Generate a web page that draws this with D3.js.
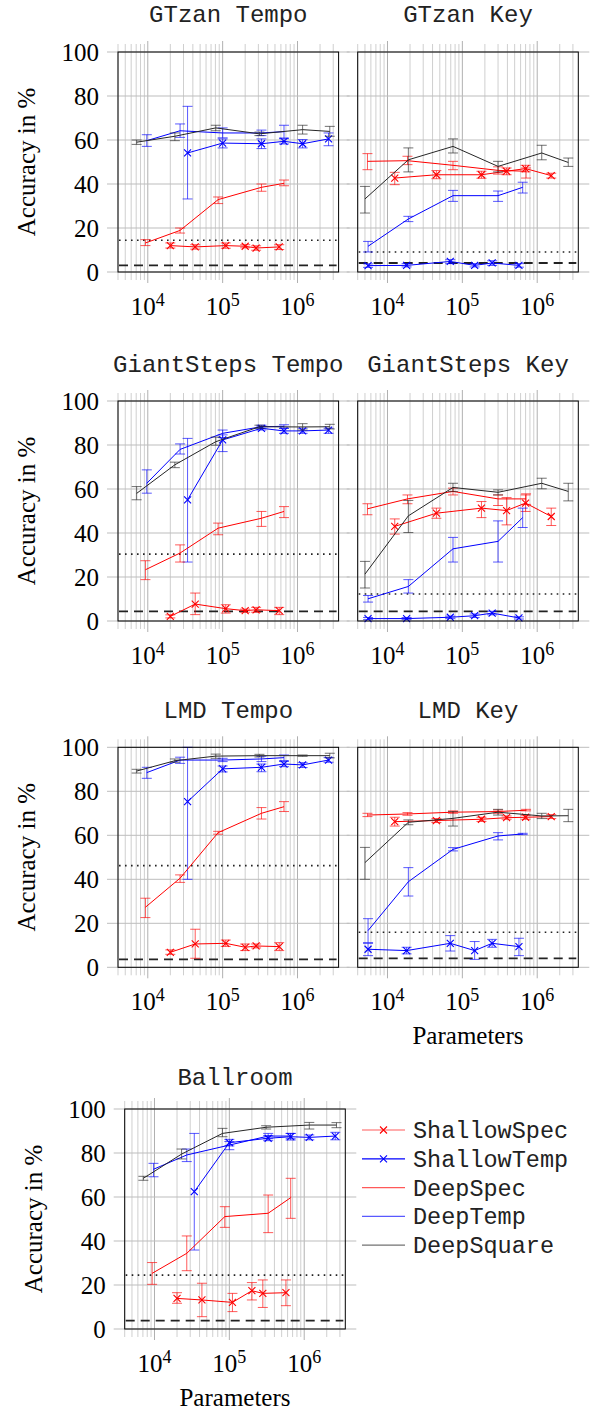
<!DOCTYPE html>
<html>
<head>
<meta charset="utf-8">
<script src="https://cdn.jsdelivr.net/npm/d3@7"></script>
<style>
  body { margin: 0; background: #fff; }
</style>
</head>
<body>
<svg id="chart" width="593" height="1411"></svg>
<script>
// parameter counts of each model family (tempo and key variants)
const tempoShallowSpec = [2.0e4, 4.3e4, 1.1e5, 2.0e5, 2.8e5, 5.7e5];
const tempoShallowTemp = [3.4e4, 1.0e5, 3.3e5, 6.6e5, 1.17e6, 2.6e6];
const tempoDeepSpec = [9.3e3, 2.7e4, 8.7e4, 3.3e5, 6.6e5];
const tempoDeepTemp = [9.7e3, 2.7e4, 1.0e5, 3.3e5, 6.6e5];
const tempoDeepSquare = [7.1e3, 2.3e4, 8.1e4, 3.1e5, 1.17e6, 2.7e6];

const keyShallowSpec = [1.25e4, 4.5e4, 1.8e5, 3.9e5, 7.0e5, 1.54e6];
const keyShallowTemp = [5.5e3, 1.8e4, 6.9e4, 1.46e5, 2.5e5, 5.7e5];
const keyDeepSpec = [5.4e3, 1.85e4, 7.5e4, 3.0e5, 7.1e5];
const keyDeepTemp = [5.5e3, 1.9e4, 7.5e4, 3.0e5, 6.4e5];
const keyDeepSquare = [5.0e3, 1.9e4, 7.5e4, 3.0e5, 1.15e6, 2.6e6];

const seriesNames = ["ShallowSpec", "ShallowTemp", "DeepSpec", "DeepTemp", "DeepSquare"];
const yTicks = [0, 20, 40, 60, 80, 100];
const xDecades = [4, 5, 6];

// accuracy values per panel: [mean, low, high]
const gtzanTempo = {
  ShallowSpec: [[12, 10.9, 13.2], [11.4, 10.4, 12.4], [12, 10.8, 13.2], [11.7, 11, 12.4], [10.9, 9.9, 11.9], [11.4, 10.2, 12.4]],
  ShallowTemp: [[54.1, 33.2, 75.3], [58.6, 56.4, 60.5], [58.3, 56.1, 60.5], [59.4, 58.2, 60.6], [58.3, 56.4, 60.2], [60.5, 57.4, 63.2]],
  DeepSpec: [[13.2, 12, 14.7], [18.9, 17.7, 20], [32.9, 31.1, 34.1], [38.5, 36.7, 40], [40.3, 39.2, 41.8]],
  DeepTemp: [[59.7, 57.1, 62.4], [64.2, 61.2, 67.3], [63.2, 61, 65.5], [63.2, 62, 64.5], [63.8, 60.9, 66.7]],
  DeepSquare: [[59, 58, 60], [61.7, 59.7, 63.2], [65.5, 64.2, 66.7], [62.8, 62, 63.6], [64.7, 62.7, 66.7], [63.9, 61.7, 66.2]]
};
const gtzanKey = {
  ShallowSpec: [[42.7, 39.7, 45.3], [44.2, 42.4, 46.1], [44.2, 42.6, 45.8], [45.8, 44.2, 47.3], [47, 45.5, 48.5], [43.8, 42.7, 44.9]],
  ShallowTemp: [[2.9, 2.1, 3.7], [3, 2.3, 3.8], [4.8, 3.8, 5.6], [3, 2.3, 3.8], [4.1, 3, 5.1], [3, 2.2, 3.8]],
  DeepSpec: [[50.3, 46.5, 53.8], [50.6, 48.8, 52.6], [48.5, 46.5, 50.3], [46.2, 44.5, 47.8], [45.8, 42.7, 47.3]],
  DeepTemp: [[11.7, 9.1, 13.9], [24.1, 22.9, 25.3], [34.7, 32.1, 37.1], [34.7, 32.1, 36.8], [38.5, 35.9, 40.8]],
  DeepSquare: [[33.2, 26.8, 38.9], [51, 45.5, 56.4], [57.1, 54.1, 60.5], [48, 45.5, 50.3], [54.1, 51, 57.6], [49.8, 48, 51.8]]
};
const giantTempo = {
  ShallowSpec: [[2.1, 1.4, 2.8], [7.7, 2.9, 12.7], [5.6, 3.6, 7.4], [4.7, 4, 5.4], [5.1, 4, 6.2], [4.7, 2.9, 6.2]],
  ShallowTemp: [[55.1, 26.8, 83], [82.3, 77, 84.6], [87.6, 86.8, 88.5], [86.4, 85.3, 87.6], [86.4, 85.3, 87.6], [86.8, 85.3, 87.6]],
  DeepSpec: [[23.3, 18.8, 27.4], [30.9, 26.8, 34.6], [42.2, 39.2, 44.5], [46.7, 43, 49.8], [49.8, 47, 52]],
  DeepTemp: [[62.6, 58.1, 68.7], [78, 75.9, 80.5], [85.3, 83.4, 86.8], [88.3, 87.6, 89], [88.5, 87.6, 89.2]],
  DeepSquare: [[58, 55.1, 61.1], [71, 69.7, 72.2], [81.5, 79.9, 83.6], [88.3, 87.6, 89], [88.2, 86.8, 89.7], [88.3, 87.3, 89.4]]
};
const giantKey = {
  ShallowSpec: [[43, 39.5, 46.4], [49, 46.7, 51.3], [51.3, 47, 54.3], [50.2, 43.7, 56.1], [53.6, 49.8, 57.3], [47.5, 43.4, 51.3]],
  ShallowTemp: [[1.1, 0.6, 1.6], [1.1, 0.6, 1.6], [1.7, 1.2, 2.2], [2.4, 1.6, 3.2], [3.6, 2.8, 4.4], [1.4, 0.9, 1.9]],
  DeepSpec: [[51, 48.3, 53.3], [55.5, 53.3, 57.3], [58.9, 57.3, 60.4], [55.5, 52.5, 57.3], [55.5, 53, 57.8]],
  DeepTemp: [[10.1, 8.6, 11.6], [15.7, 12.7, 18.8], [32.8, 26.8, 38], [36.2, 26.8, 45.5], [47, 42.5, 51.3]],
  DeepSquare: [[21.3, 15, 27.1], [47.8, 40.2, 54.8], [60.7, 58.9, 62.6], [58.5, 57.3, 59.6], [62.6, 60.1, 64.9], [58.9, 54.6, 62.6]]
};
const lmdTempo = {
  ShallowSpec: [[6.8, 5.9, 7.9], [10.6, 4.1, 17.3], [10.9, 9.5, 12.4], [9.1, 7.6, 10.6], [9.7, 8.8, 10.6], [9.4, 7.6, 11.2]],
  ShallowTemp: [[75.3, 40, 100], [90.2, 88.8, 91.5], [90.9, 88.9, 92.4], [92.4, 91.2, 93.6], [92, 90.8, 93], [94.2, 93.2, 95.3]],
  DeepSpec: [[27.3, 22.6, 31.4], [40.5, 38.6, 42], [61.2, 60.5, 61.8], [70, 67.4, 72.6], [73, 70.8, 75.3]],
  DeepTemp: [[88.5, 85.9, 90.9], [94.2, 92.7, 95.5], [94.2, 93.5, 95], [94.7, 93.5, 95.9], [95.3, 93.9, 96.5]],
  DeepSquare: [[89.2, 88.3, 90], [93.9, 93.2, 94.7], [96, 95, 96.9], [96.2, 95.6, 96.8], [96.2, 95.9, 96.5], [96.2, 95.2, 97.3]]
};
const lmdKey = {
  ShallowSpec: [[66.2, 64.2, 68.2], [66.7, 65.8, 67.6], [67.3, 66.3, 68.2], [68, 67.3, 68.8], [68.2, 67.3, 69.1], [68.5, 67.6, 69.4]],
  ShallowTemp: [[8.2, 5.3, 10.9], [7.6, 6.1, 9.1], [10.9, 7.4, 14.4], [7.6, 3.6, 11.7], [10.9, 9.1, 12.7], [9.4, 5.3, 13.2]],
  DeepSpec: [[69.2, 68.5, 70], [69.7, 69.1, 70.3], [70.5, 70, 71.1], [70.8, 70, 71.5], [71.4, 71.1, 71.8]],
  DeepTemp: [[16.7, 11.2, 22.1], [38.9, 32.4, 45.3], [53.6, 52.9, 54.4], [59.7, 57.9, 61.2], [60.6, 60.3, 60.9]],
  DeepSquare: [[47.6, 40, 54.5], [65.9, 64.8, 67], [67.7, 64.2, 70.8], [70.5, 69.2, 71.8], [68.8, 67.6, 70], [68.9, 66.2, 71.8]]
};
const ballroom = {
  ShallowSpec: [[13.9, 11.7, 16.5], [13.2, 5.6, 20.8], [12.1, 7.9, 16.2], [17.4, 13.2, 21.1], [16.2, 9.8, 22.3], [16.5, 10.6, 22.3]],
  ShallowTemp: [[62.4, 35.9, 88.9], [84.7, 83.2, 86.2], [86.7, 85.6, 87.9], [87.4, 85.9, 88.9], [87.1, 86, 88.2], [87.7, 86, 89.4]],
  DeepSpec: [[25.3, 20.3, 30.2], [34.4, 26.5, 42.3], [51.1, 46.2, 55.6], [52.6, 43.8, 60.9], [59.7, 50.3, 68.5]],
  DeepTemp: [[72.6, 69.2, 75.3], [79.1, 76.1, 81.8], [83.6, 81.5, 85.2], [87.7, 86.5, 88.9], [87.7, 86.5, 88.9]],
  DeepSquare: [[68.5, 67.6, 69.4], [79.5, 77.3, 81.8], [88.9, 87.4, 91.2], [91.7, 90.9, 92.4], [92.7, 90.9, 93.9], [92.7, 91.5, 93.8]]
};

// chance / majority baselines (dotted, dashed)
const dottedLevels = [14.4, 9.1, 30.4, 12.3, 46.2, 15.9, 24.5];
const dashedLevels = [3, 4.1, 4.4, 4.4, 3.6, 4.1, 3.8];

const tempoX = [tempoShallowSpec, tempoShallowTemp, tempoDeepSpec, tempoDeepTemp, tempoDeepSquare];
const keyX = [keyShallowSpec, keyShallowTemp, keyDeepSpec, keyDeepTemp, keyDeepSquare];

const svg = d3.select("#chart");
const pw = 220.6, ph = 220;
const serif = "'Liberation Serif', 'Times New Roman', serif";
const mono = "'Liberation Mono', 'Courier New', monospace";

const colors = {ShallowSpec: "#ff0000", ShallowTemp: "#0000ff", DeepSpec: "#ff0000", DeepTemp: "#0000ff", DeepSquare: "#262626"};
const marked = {ShallowSpec: true, ShallowTemp: true};

const panels = [
  {title: "GTzan Tempo", data: gtzanTempo, xs: tempoX, left: 118, top: 52, titleY: 22, yLab: true},
  {title: "GTzan Key", data: gtzanKey, xs: keyX, left: 357.7, top: 52, titleY: 22},
  {title: "GiantSteps Tempo", data: giantTempo, xs: tempoX, left: 118, top: 401, titleY: 372, yLab: true},
  {title: "GiantSteps Key", data: giantKey, xs: keyX, left: 357.7, top: 401, titleY: 372},
  {title: "LMD Tempo", data: lmdTempo, xs: tempoX, left: 118, top: 747.3, titleY: 718, yLab: true},
  {title: "LMD Key", data: lmdKey, xs: keyX, left: 357.7, top: 747.3, titleY: 718, xLab: true},
  {title: "Ballroom", data: ballroom, xs: tempoX, left: 124.7, top: 1109, titleY: 1085, yLab: true, xLab: true}
];

// minor log grid values
const logGrid = [];
for (let k = 3; k <= 6; k++) {
  for (let m = 1; m <= 9; m++) {
    const v = m * Math.pow(10, k);
    if (v >= 4000 && v <= 3.54e6) logGrid.push({v: v, major: m === 1});
  }
}

panels.forEach((p, pi) => {
  const x = d3.scaleLog().domain([4000, 3.54e6]).range([0, pw]);
  const y = d3.scaleLinear().domain([0, 100]).range([ph, 0]);
  const g = svg.append("g").attr("transform", `translate(${p.left},${p.top})`);

  // vertical grid + ticks outside top/bottom
  g.selectAll(".xg").data(logGrid).join("line")
    .attr("x1", d => x(d.v)).attr("x2", d => x(d.v))
    .attr("y1", d => d.major ? -11 : -8).attr("y2", d => ph + (d.major ? 11 : 8))
    .attr("stroke", d => d.major ? "#b0b0b0" : "#cfcfcf")
    .attr("stroke-width", 1);

  // horizontal grid + ticks outside left/right
  g.selectAll(".yg").data(yTicks).join("line")
    .attr("x1", -11).attr("x2", pw + 11)
    .attr("y1", d => y(d)).attr("y2", d => y(d))
    .attr("stroke", "#bdbdbd").attr("stroke-width", 1);

  // baselines
  g.append("line")
    .attr("x1", 1).attr("x2", pw - 2)
    .attr("y1", y(dottedLevels[pi])).attr("y2", y(dottedLevels[pi]))
    .attr("stroke", "#222").attr("stroke-width", 1.6)
    .attr("stroke-dasharray", "1.6 4.4");
  g.append("line")
    .attr("x1", 1).attr("x2", pw - 2)
    .attr("y1", y(dashedLevels[pi])).attr("y2", y(dashedLevels[pi]))
    .attr("stroke", "#222").attr("stroke-width", 1.8)
    .attr("stroke-dasharray", "9 6");

  const line = d3.line().x(d => x(d.x)).y(d => y(d.v));

  seriesNames.forEach((name, si) => {
    const pts = p.data[name].map((d, i) => ({x: p.xs[si][i], v: d[0], lo: d[1], hi: d[2]}));
    const c = colors[name];

    // error bars
    const eb = g.append("g").attr("stroke", c).attr("stroke-opacity", 0.65).attr("stroke-width", 1);
    pts.forEach(d => {
      const px = x(d.x);
      eb.append("line").attr("x1", px).attr("x2", px).attr("y1", y(d.lo)).attr("y2", y(d.hi));
      eb.append("line").attr("x1", px - 5).attr("x2", px + 5).attr("y1", y(d.lo)).attr("y2", y(d.lo));
      eb.append("line").attr("x1", px - 5).attr("x2", px + 5).attr("y1", y(d.hi)).attr("y2", y(d.hi));
    });

    g.append("path").datum(pts)
      .attr("d", line)
      .attr("fill", "none")
      .attr("stroke", c)
      .attr("stroke-width", 1);

    if (marked[name]) {
      const s = 3.5;
      g.append("g").selectAll("path").data(pts).join("path")
        .attr("d", d => {
          const px = x(d.x), py = y(d.v);
          return `M${px - s},${py - s}L${px + s},${py + s}M${px - s},${py + s}L${px + s},${py - s}`;
        })
        .attr("stroke", c).attr("stroke-width", 1.1).attr("fill", "none");
    }
  });

  // frame
  g.append("rect").attr("width", pw).attr("height", ph)
    .attr("fill", "none").attr("stroke", "#000").attr("stroke-width", 1);

  // x tick labels 10^k
  xDecades.forEach(k => {
    const t = g.append("text")
      .attr("x", x(Math.pow(10, k)))
      .attr("y", ph + 43)
      .attr("text-anchor", "middle")
      .attr("font-family", serif)
      .attr("font-size", 25);
    t.append("tspan").text("10");
    t.append("tspan").attr("dy", -9).attr("font-size", 18).text(k);
  });

  // y tick labels
  if (p.yLab) {
    g.selectAll(".yl").data(yTicks).join("text")
      .attr("x", -19)
      .attr("y", d => y(d) + 8.5)
      .attr("text-anchor", "end")
      .attr("font-family", serif)
      .attr("font-size", 25)
      .text(d => d);

    svg.append("text")
      .attr("transform", `translate(${p.left - 83},${p.top + ph / 2}) rotate(-90)`)
      .attr("text-anchor", "middle")
      .attr("font-family", serif)
      .attr("font-size", 25)
      .text("Accuracy in %");
  }

  if (p.xLab) {
    g.append("text")
      .attr("x", pw / 2)
      .attr("y", ph + 77)
      .attr("text-anchor", "middle")
      .attr("font-family", serif)
      .attr("font-size", 25)
      .text("Parameters");
  }

  // title
  svg.append("text")
    .attr("x", p.left + pw / 2)
    .attr("y", p.titleY)
    .attr("text-anchor", "middle")
    .attr("font-family", mono)
    .attr("font-size", 24)
    .attr("fill", "#222")
    .text(p.title);
});

// legend
const legend = svg.append("g").attr("transform", "translate(362,1130)");
seriesNames.forEach((name, i) => {
  const row = legend.append("g").attr("transform", `translate(0,${i * 28.8})`);
  row.append("line")
    .attr("x1", 0).attr("x2", 43).attr("y1", 0).attr("y2", 0)
    .attr("stroke", colors[name])
    .attr("stroke-opacity", name === "ShallowTemp" ? 1 : 0.65)
    .attr("stroke-width", 1.2);
  if (marked[name]) {
    const s = 3.5;
    row.append("path")
      .attr("d", `M${21.5 - s},${-s}L${21.5 + s},${s}M${21.5 - s},${s}L${21.5 + s},${-s}`)
      .attr("stroke", colors[name]).attr("stroke-width", 1.1);
  }
  row.append("text")
    .attr("x", 51)
    .attr("y", 8)
    .attr("font-family", mono)
    .attr("font-size", 23.5)
    .attr("fill", "#222")
    .text(name);
});
</script>
</body>
</html>
